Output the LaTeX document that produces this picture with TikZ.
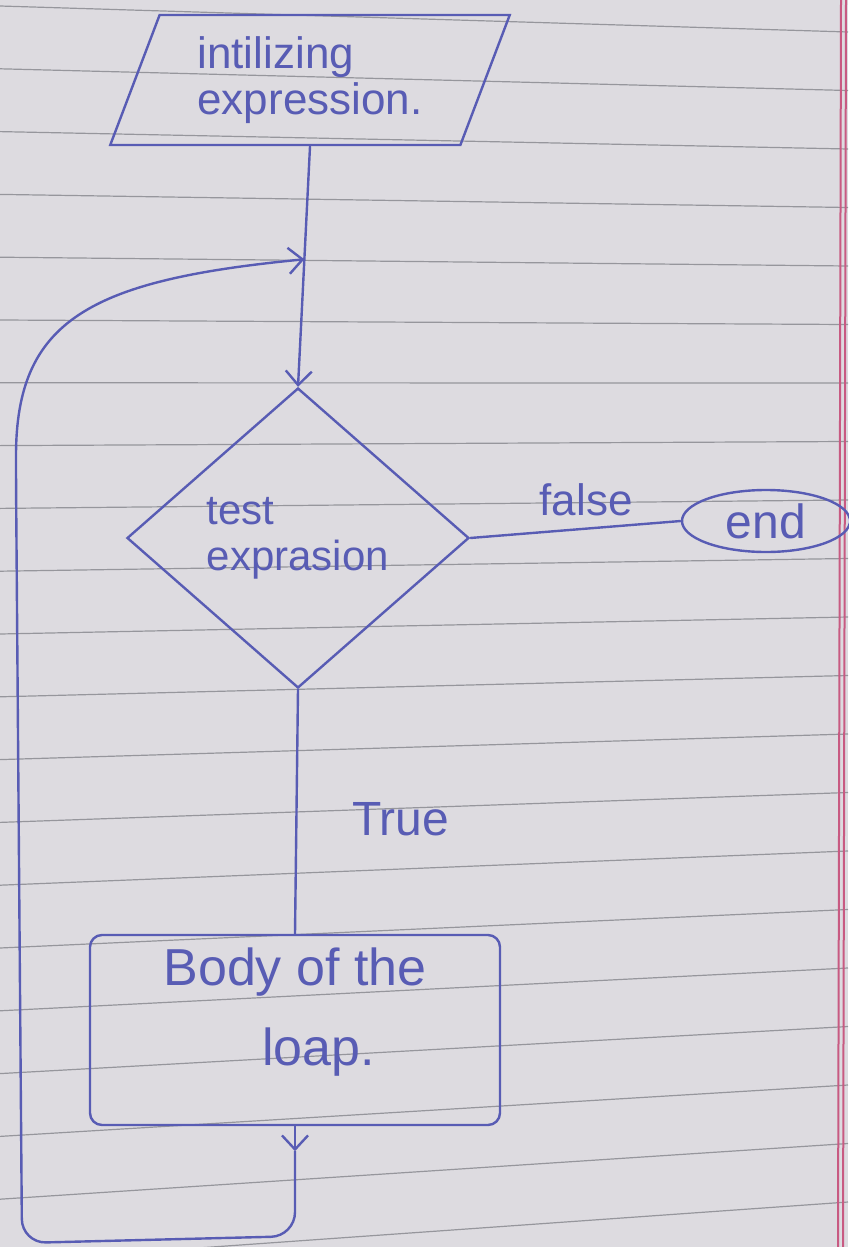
\documentclass[tikz,border=0pt]{standalone}
\usepackage{fontspec}
\setmainfont{Liberation Sans}
\usetikzlibrary{shapes.geometric,arrows.meta,calc}
\definecolor{paper}{RGB}{221,219,224}
\definecolor{ruleline}{RGB}{150,150,156}
\definecolor{ink}{RGB}{88,92,180}
\definecolor{marginred}{RGB}{200,90,130}
\begin{document}
\begin{tikzpicture}[x=0.5pt,y=-0.5pt,
  inkline/.style={draw=ink, line width=1.2pt},
  flow/.style={inkline, -{Straight Barb[length=7pt,width=13pt]}},
  handtext/.style={text=ink},
]
\useasboundingbox (0,0) rectangle (848,1247);
% paper
\begin{scope}
\clip (0,0) rectangle (848,1247);
\fill[paper] (0,0) rectangle (848,1247);
\foreach \i in {0,...,20}
  \draw[ruleline, line width=0.6pt] (0,{6+62.8*\i}) -- (848,{32+58.5*\i});
\draw[marginred, line width=1pt] (841,0) -- (838,1247);
\draw[marginred, line width=1pt] (846,0) -- (843,1247);
\end{scope}

% nodes
\node[trapezium, trapezium left angle=67, trapezium right angle=113,
      trapezium stretches=true, minimum width=200pt, minimum height=65pt,
      inkline, inner sep=0pt, align=left, handtext,
      font=\fontsize{22}{23}\selectfont] (init) at (310,80) {intilizing\\expression.};

\node[diamond, inkline, minimum width=171pt, minimum height=150pt, inner sep=0pt,
      align=left, handtext, font=\fontsize{21}{23}\selectfont] (test) at (298,538)
      {test\\exprasion};

\node[ellipse, inkline, minimum width=84pt, minimum height=31pt, inner sep=0pt,
      handtext, font=\fontsize{24}{26}\selectfont] (end) at (766,521) {end};

\node[rectangle, rounded corners=6pt, inkline, minimum width=205pt, minimum height=95pt,
      label={[handtext, align=left, font=\fontsize{26}{40}\selectfont, yshift=9pt]center:{Body of the\\\hspace*{1.9em}loap.}}]
      (body) at (295,1030) {};

% connectors
\coordinate (join) at ($(init.south)!0.47!(test.north)$);
\draw[flow] (init.south) -- (test.north);
\draw[inkline] (test.east) -- node[pos=0.55, above, inner sep=6pt, handtext,
      font=\fontsize{22}{24}\selectfont] {false} (end.west);
\draw[inkline] (test.south) -- node[pos=0.53, right=24pt, handtext,
      font=\fontsize{24}{26}\selectfont] {True} (body.north);
\coordinate (a) at ($(body.south)+(0,25)$);
\draw[flow] (body.south) -- (a);
\draw[flow, rounded corners=12pt] (a) -- ++(0,85) -- (22,1243) -- (16,480)
      .. controls (16,320) and (90,280) .. (join);
\end{tikzpicture}
\end{document}
